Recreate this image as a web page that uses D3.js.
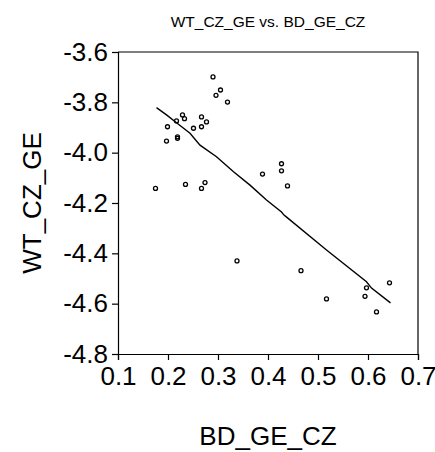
<!DOCTYPE html>
<html>
<head>
<meta charset="utf-8">
<script src="https://cdn.jsdelivr.net/npm/d3@7"></script>
<style>
  html, body { margin: 0; padding: 0; background: #fff; overflow: hidden; }
  svg { display: block; font-family: Arial, "Liberation Sans", sans-serif; }
</style>
</head>
<body>
<div id="chart"></div>
<script>
// ---- data ----
const title = "WT_CZ_GE vs. BD_GE_CZ";
const xLabel = "BD_GE_CZ";
const yLabel = "WT_CZ_GE";
const xTicks = [0.1, 0.2, 0.3, 0.4, 0.5, 0.6, 0.7];
const yTicks = [-3.6, -3.8, -4.0, -4.2, -4.4, -4.6, -4.8];

const bdGeCz = [0.290, 0.305, 0.296, 0.319, 0.229, 0.233, 0.217, 0.199, 0.267, 0.277,
                0.267, 0.251, 0.219, 0.219, 0.197, 0.175, 0.235, 0.267, 0.274, 0.338,
                0.427, 0.427, 0.389, 0.439, 0.466, 0.643, 0.597, 0.594, 0.517, 0.617];
const wtCzGe = [-3.699, -3.751, -3.772, -3.799, -3.850, -3.865, -3.874, -3.897, -3.858, -3.878,
                -3.897, -3.903, -3.937, -3.943, -3.954, -4.142, -4.126, -4.142, -4.119, -4.430,
                -4.044, -4.072, -4.085, -4.132, -4.469, -4.517, -4.537, -4.571, -4.581, -4.633];

// smoothed fit line
const fitX = [0.177, 0.197, 0.217, 0.244, 0.264, 0.297, 0.331, 0.364, 0.397, 0.427, 0.432, 0.436, 0.517, 0.597, 0.607, 0.645];
const fitY = [-3.821, -3.850, -3.881, -3.923, -3.970, -4.016, -4.076, -4.129, -4.188, -4.236, -4.248, -4.254, -4.387, -4.513, -4.538, -4.597];

// ---- layout ----
const W = 435, H = 452;
const m = { left: 118, right: 17, top: 52, bottom: 98 };
const FONT = "Arial, 'Liberation Sans', sans-serif";
const fmt = d => d3.format(".1f")(d).replace("\u2212", "-");

const svg = d3.select("#chart").append("svg")
  .attr("width", W).attr("height", H);

const x = d3.scaleLinear().domain([0.1, 0.7]).range([m.left, W - m.right]);
const y = d3.scaleLinear().domain([-4.8, -3.6]).range([H - m.bottom, m.top]);

// frame (top and right)
svg.append("path")
  .attr("d", `M${x(0.1)},${y(-3.6)}H${x(0.7)}V${y(-4.8)}`)
  .attr("fill", "none").attr("stroke", "#000").attr("stroke-width", 1.2);

// y axis
const yAxis = svg.append("g")
  .attr("transform", `translate(${m.left},0)`)
  .call(d3.axisLeft(y).tickValues(yTicks).tickFormat(fmt).tickSize(6).tickPadding(4));
yAxis.selectAll("text").attr("font-size", 26).attr("font-family", FONT).attr("fill", "#000");

// x axis
const xAxis = svg.append("g")
  .attr("transform", `translate(0,${H - m.bottom})`)
  .call(d3.axisBottom(x).tickValues(xTicks).tickFormat(fmt).tickSize(6).tickPadding(7));
xAxis.selectAll("text").attr("font-size", 26).attr("font-family", FONT).attr("fill", "#000");

[yAxis, xAxis].forEach(a => {
  a.select(".domain").attr("stroke", "#000").attr("stroke-width", 1.2);
  a.selectAll(".tick line").attr("stroke", "#000").attr("stroke-width", 1.2);
});

// title
svg.append("text")
  .attr("x", (x(0.1) + x(0.7)) / 2).attr("y", 27)
  .attr("text-anchor", "middle").attr("font-size", 15.5).attr("fill", "#000")
  .text(title);

// axis labels
svg.append("text")
  .attr("x", (x(0.1) + x(0.7)) / 2).attr("y", 445)
  .attr("text-anchor", "middle").attr("font-size", 26).attr("fill", "#000")
  .text(xLabel);

svg.append("text")
  .attr("transform", `translate(41,${(y(-3.6) + y(-4.8)) / 2}) rotate(-90)`)
  .attr("text-anchor", "middle").attr("font-size", 26).attr("fill", "#000")
  .text(yLabel);

// fit line
const line = d3.line().x(d => x(d[0])).y(d => y(d[1]));
svg.append("path")
  .datum(fitX.map((v, i) => [v, fitY[i]]))
  .attr("d", line)
  .attr("fill", "none").attr("stroke", "#000").attr("stroke-width", 1.4);

// points
svg.append("g").selectAll("circle")
  .data(bdGeCz.map((v, i) => [v, wtCzGe[i]]))
  .join("circle")
  .attr("cx", d => x(d[0])).attr("cy", d => y(d[1]))
  .attr("r", 2)
  .attr("fill", "none").attr("stroke", "#000").attr("stroke-width", 1.3);
</script>
</body>
</html>
